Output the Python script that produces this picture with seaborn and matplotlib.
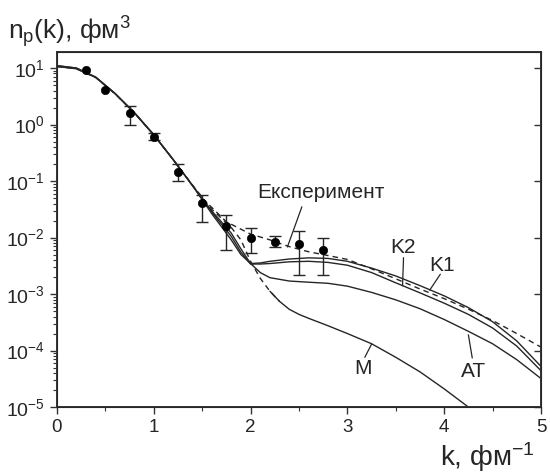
import numpy as np
import pandas as pd
import seaborn as sns
import matplotlib
matplotlib.use("Agg")
import matplotlib.pyplot as plt
from matplotlib.ticker import LogLocator, MultipleLocator, NullFormatter, NullLocator

# theory curves, n_p(k)
k_th = [0, 0.2, 0.4, 0.6, 0.8, 1.0, 1.2, 1.4, 1.6, 1.8, 1.9, 2.0, 2.1, 2.2,
        2.4, 2.6, 2.8, 3.0, 3.25, 3.5, 3.75, 4.0, 4.25, 4.5, 4.75, 5.0]
n_k1 = [11.0, 10.0, 6.9, 3.55, 1.62, 0.66, 0.24, 0.083, 0.0263, 0.0091, 0.0050,
        0.00347, 0.00355, 0.0038, 0.00417, 0.00437, 0.00427, 0.0038, 0.00288,
        0.00209, 0.00141, 0.00093, 0.000575, 0.000324, 0.000148, 5.25e-5]
n_k2 = [11.0, 10.0, 6.9, 3.55, 1.62, 0.66, 0.24, 0.083, 0.0282, 0.0105, 0.0055,
        0.0034, 0.0034, 0.00347, 0.00372, 0.0038, 0.00363, 0.00324, 0.0024,
        0.00158, 0.00105, 0.00069, 0.000437, 0.000251, 0.00012, 4.4e-5]
n_at = [10.6, 9.7, 6.8, 3.5, 1.6, 0.65, 0.24, 0.083, 0.0295, 0.012, 0.0063,
        0.00347, 0.0024, 0.00195, 0.0017, 0.00162, 0.00155, 0.00138, 0.00107,
        0.00079, 0.00055, 0.000355, 0.000219, 0.000132, 6.9e-5, 3.2e-5]

k_m = [0, 0.2, 0.4, 0.6, 0.8, 1.0, 1.2, 1.4, 1.6, 1.8, 1.9, 2.0, 2.1, 2.2,
       2.3, 2.4, 2.5, 2.6, 2.8, 3.0, 3.25, 3.5, 3.75, 4.0, 4.25]
n_m = [10.6, 9.7, 6.8, 3.5, 1.6, 0.66, 0.24, 0.085, 0.0316, 0.0151, 0.0091,
       0.0038, 0.0019, 0.00112, 0.00074, 0.000537, 0.000437, 0.000372,
       0.000275, 0.0002, 0.000132, 7.6e-5, 4.2e-5, 2.1e-5, 1.0e-5]

# dashed line through the experiment
k_fit = [1.5, 1.6, 1.75, 2.0, 2.2, 2.4, 2.6, 2.8, 3.0, 3.25, 3.5, 3.75, 4.0,
         4.25, 4.5, 4.75, 5.0]
n_fit = [0.049, 0.034, 0.019, 0.0115, 0.0091, 0.0069, 0.0056, 0.0048, 0.0041,
         0.0028, 0.00186, 0.00123, 0.00083, 0.00054, 0.00034, 0.0002, 0.000115]

# experimental points
k_exp = [0.3, 0.5, 0.75, 1.0, 1.25, 1.5, 1.75, 2.0, 2.25, 2.5, 2.75]
n_exp = [9.2, 4.1, 1.6, 0.61, 0.147, 0.041, 0.016, 0.010, 0.0083, 0.0076, 0.0060]
n_lo = [9.2, 4.1, 1.0, 0.54, 0.10, 0.019, 0.006, 0.0054, 0.0068, 0.0022, 0.0022]
n_hi = [9.2, 4.1, 2.1, 0.71, 0.20, 0.056, 0.025, 0.0148, 0.0107, 0.0129, 0.0098]

sns.set_style("ticks")
plt.rcParams["font.family"] = ["Liberation Sans", "DejaVu Sans"]
plt.rcParams["mathtext.default"] = "regular"

fig = plt.figure(figsize=(5.5, 4.75), dpi=100)
ax = fig.add_axes([0.1036, 0.143, 0.88, 0.7475])

lc = "#262626"
theory = pd.DataFrame({"k": k_th, "K1": n_k1, "K2": n_k2, "AT": n_at})
for name in ["K1", "K2", "AT"]:
    sns.lineplot(data=theory, x="k", y=name, ax=ax, color=lc, lw=1.0)

m = pd.DataFrame({"k": k_m, "n": n_m})
sns.lineplot(data=m[m.k <= 2.3], x="k", y="n", ax=ax, color=lc, lw=1.0,
             linestyle=(0, (4, 3)))
sns.lineplot(data=m[m.k >= 2.2], x="k", y="n", ax=ax, color=lc, lw=1.0)

sns.lineplot(x=k_fit, y=n_fit, ax=ax, color=lc, lw=1.0, linestyle=(0, (4, 3)))

ke = np.array(k_exp)
ne = np.array(n_exp)
yerr = np.array([ne - np.array(n_lo), np.array(n_hi) - ne])
sel = ke >= 0.75
ax.errorbar(ke[sel], ne[sel], yerr=yerr[:, sel], fmt="none", ecolor=lc,
            elinewidth=1.0, capsize=4, capthick=1.0)
sns.scatterplot(x=k_exp, y=n_exp, ax=ax, color="black", s=36, edgecolor="black",
                zorder=5)

ax.set_yscale("log")
ax.set_xlim(0, 5)
ax.set_ylim(1e-5, 19.2)
ax.xaxis.set_major_locator(MultipleLocator(1))
ax.xaxis.set_minor_locator(MultipleLocator(0.5))
ax.yaxis.set_major_locator(LogLocator(base=10, numticks=10))
ax.yaxis.set_minor_locator(LogLocator(base=10, subs=np.arange(2, 10), numticks=20))
ax.yaxis.set_minor_formatter(NullFormatter())
ax.tick_params(which="major", length=5, width=1, color="#333333")
ax.tick_params(axis="x", labelsize=13.5)
ax.tick_params(axis="y", labelsize=14)
ax.tick_params(which="minor", length=3, width=0.8, color="#333333")
for s in ax.spines.values():
    s.set_linewidth(1.4)
    s.set_color("#333333")
ax.set_xlabel("")
ax.set_ylabel("")

# inward major ticks on the right edge
ax2 = ax.twinx()
ax2.set_yscale("log")
ax2.set_ylim(ax.get_ylim())
ax2.yaxis.set_major_locator(LogLocator(base=10, numticks=10))
ax2.yaxis.set_minor_locator(NullLocator())
ax2.tick_params(direction="in", length=5, width=1, color="#333333",
                labelright=False)

# curve labels and their pointer strokes
tfs = 15
ax.text(2.07, 0.062, "Експеримент", fontsize=tfs, ha="left", va="center")
ax.plot([2.53, 2.38], [0.035, 0.0068], color=lc, lw=0.9)
ax.text(3.57, 0.0068, "K2", fontsize=tfs, ha="center", va="center")
ax.plot([3.58, 3.57], [0.0044, 0.0014], color=lc, lw=0.9)
ax.text(3.98, 0.0032, "K1", fontsize=tfs, ha="center", va="center")
ax.plot([3.96, 3.85], [0.00224, 0.00117], color=lc, lw=0.9)
ax.text(4.30, 4.2e-5, "AT", fontsize=tfs, ha="center", va="center")
ax.plot([4.29, 4.25], [7.4e-5, 1.9e-4], color=lc, lw=0.9)
ax.text(3.16, 4.9e-5, "M", fontsize=tfs, ha="center", va="center")
ax.plot([3.18, 3.25], [7.6e-5, 1.3e-4], color=lc, lw=0.9)

fig.text(0.015, 0.916, "n$_p$(k), фм$^3$", fontsize=19, ha="left", va="baseline")
fig.text(0.973, 0.02, "k, фм$^{-1}$", fontsize=20, ha="right", va="baseline")

fig.savefig("out.png", dpi=100)
